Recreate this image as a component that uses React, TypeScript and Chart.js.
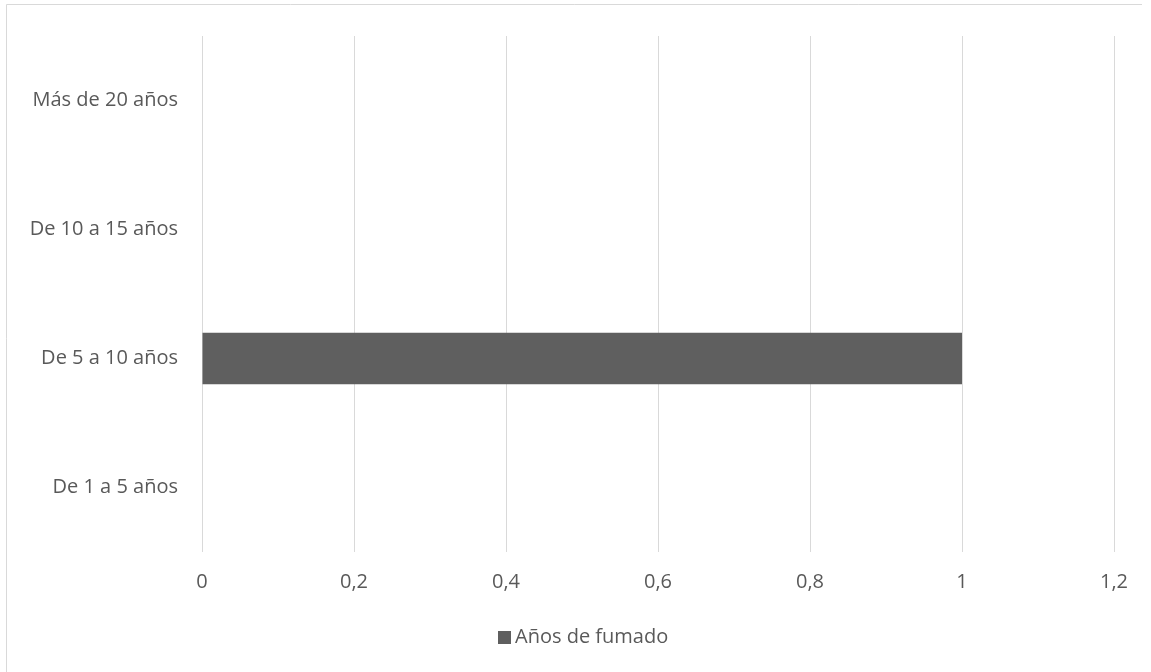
import React, { useEffect, useRef } from "react";
import { Chart, registerables } from "chart.js";

Chart.register(...registerables);

const categories = ["De 1 a 5 años", "De 5 a 10 años", "De 10 a 15 años", "Más de 20 años"];
const seriesLabel = "Años de fumado";
const seriesValues = [0, 1, 0, 0];
const xTicks = [0, 0.2, 0.4, 0.6, 0.8, 1, 1.2];

const FONT = "'Open Sans', 'Noto Sans', sans-serif";
const FS = 20;
const TEXT = "#595959";
const GRID = "#d9d9d9";
const BAR = "#5f5f5f";

export default function App() {
  const ref = useRef<HTMLCanvasElement | null>(null);
  useEffect(() => {
    const canvas = ref.current;
    if (!canvas) return;
    const frame = {
      id: "frame",
      beforeDraw(chart: any) {
        const ctx = chart.ctx;
        ctx.save();
        ctx.fillStyle = "#ffffff";
        ctx.fillRect(0, 0, chart.width, chart.height);
        ctx.strokeStyle = GRID;
        ctx.lineWidth = 1;
        ctx.beginPath();
        ctx.moveTo(6.5, chart.height);
        ctx.lineTo(6.5, 4.5);
        ctx.lineTo(1142, 4.5);
        ctx.stroke();
        ctx.restore();
      },
      afterDraw(chart: any) {
        const ctx = chart.ctx;
        const ds = chart.data.datasets[0];
        ctx.save();
        ctx.fillStyle = ds.backgroundColor;
        ctx.fillRect(498, 631, 13, 13);
        ctx.fillStyle = TEXT;
        ctx.font = `${FS}px ${FONT}`;
        ctx.textBaseline = "middle";
        ctx.textAlign = "left";
        ctx.fillText(ds.label, 515, 637.5);
        ctx.restore();
      },
    };
    const chart = new Chart(canvas, {
      type: "bar",
      data: {
        labels: categories,
        datasets: [
          {
            label: seriesLabel,
            data: seriesValues,
            backgroundColor: BAR,
            borderWidth: 0,
            barPercentage: 0.4,
            categoryPercentage: 1,
          },
        ],
      },
      options: {
        indexAxis: "y",
        animation: false,
        responsive: false,
        maintainAspectRatio: false,
        layout: { padding: { left: 0, right: 37, top: 33, bottom: 0 } },
        plugins: {
          tooltip: { enabled: false },
          legend: { display: false },
        },
        scales: {
          x: {
            min: 0,
            max: 1.2,
            afterBuildTicks(scale: any) {
              scale.ticks = xTicks.map((v) => ({ value: v }));
            },
            afterFit(scale: any) {
              scale.height = 120;
            },
            grid: { color: GRID, lineWidth: 1, drawTicks: false },
            border: { display: false },
            ticks: {
              color: TEXT,
              font: { family: FONT, size: FS },
              padding: 18,
              callback: (v: any) => String(v).replace(".", ","),
            },
          },
          y: {
            reverse: true,
            afterFit(scale: any) {
              scale.width = 202;
            },
            grid: { display: false, drawTicks: false },
            border: { display: false },
            ticks: {
              color: TEXT,
              font: { family: FONT, size: FS },
              padding: 24,
            },
          },
        },
      },
      plugins: [frame],
    } as any);
    return () => chart.destroy();
  }, []);
  return (
    <div style={{ position: "fixed", left: 0, top: 0, width: 1151, height: 672, background: "#fff" }}>
      <canvas ref={ref} width={1151} height={672} style={{ width: 1151, height: 672, display: "block" }} />
    </div>
  );
}
